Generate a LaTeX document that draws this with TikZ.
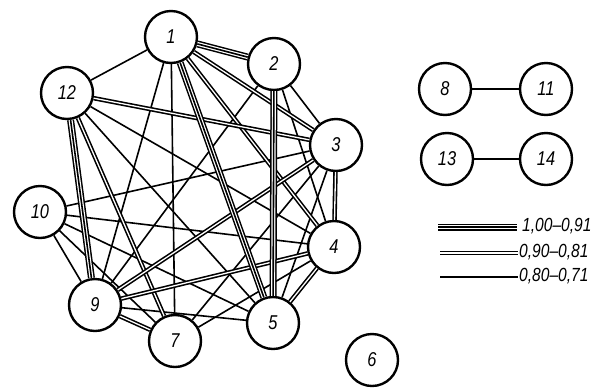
\documentclass[tikz,border=0pt]{standalone}
\usepackage{fontspec}
\setmainfont{Liberation Sans}
\newcommand{\narrow}[1]{\scalebox{0.82}[1]{#1}}
\tikzset{
  vertex/.style={circle, draw, line width=2.4pt, minimum size=52pt, inner sep=0pt,
    font=\itshape\fontsize{20}{20}\selectfont},
  single/.style={line width=1.6pt},
  twofold/.style={double, double distance=1.3pt, line width=1.6pt},
  threefold/.style={line width=7pt, postaction={draw=white, line width=4pt},
    postaction={draw, line width=1.6pt}},
  legendtext/.style={anchor=west, inner sep=0pt, font=\itshape\fontsize{19}{19}\selectfont}
}
\begin{document}
\begin{tikzpicture}[x=1pt, y=-1pt]
      \useasboundingbox (0,0) rectangle (599,389);
      \draw[vertex]
        (171,37) node[vertex] (1){\narrow{1}}
        (274,64) node[vertex] (2){\narrow{2}}
        (336,145) node[vertex] (3){\narrow{3}}
        (334,247) node[vertex] (4){\narrow{4}}
        (273,323) node[vertex] (5){\narrow{5}}
        (372,360) node[vertex] (6){\narrow{6}}
        (175,341) node[vertex] (7){\narrow{7}}
        (445,89) node[vertex] (8){\narrow{8}}
        (95,305) node[vertex] (9){\narrow{9}}
        (40,212) node[vertex] (10){\narrow{10}}
        (546,89) node[vertex] (11){\narrow{11}}
        (67,93) node[vertex] (12){\narrow{12}}
        (447,159) node[vertex] (13){\narrow{13}}
        (546,159) node[vertex] (14){\narrow{14}};
      \begin{scope}[-]
        \draw[single] (1) to (12);
        \draw[single] (1) to (7);
        \draw[single] (1) to (9);
        \draw[single] (2) to (3);
        \draw[single] (2) to (4);
        \draw[single] (2) to (9);
        \draw[single] (3) to (10);
        \draw[single] (3) to (5);
        \draw[single] (3) to (7);
        \draw[single] (4) to (10);
        \draw[single] (4) to (7);
        \draw[single] (4) to (12);
        \draw[single] (5) to (9);
        \draw[single] (5) to (12);
        \draw[single] (5) to (10);
        \draw[single] (10) to (7);
        \draw[single] (10) to (9);
        \draw[single] (8) to (11);
        \draw[single] (13) to (14);
        \draw[twofold] (1) to (3);
        \draw[twofold] (1) to (4);
        \draw[twofold] (12) to (3);
        \draw[twofold] (12) to (7);
        \draw[twofold] (3) to (4);
        \draw[twofold] (3) to (9);
        \draw[twofold] (4) to (9);
        \draw[twofold] (4) to (5);
        \draw[twofold] (9) to (7);
        \draw[threefold] (1) to (2);
        \draw[threefold] (1) to (5);
        \draw[threefold] (2) to (5);
        \draw[threefold] (12) to (9);
      \end{scope}
      % legend
      \coordinate (t0) at (438,227);
      \coordinate (t1) at (517,227);
      \coordinate (d0) at (440,253);
      \coordinate (d1) at (518,253);
      \coordinate (s0) at (440,277);
      \coordinate (s1) at (518,277);
      \draw[threefold] (t0) -- (t1);
      \draw[twofold] (d0) -- (d1);
      \draw[single] (s0) -- (s1);
      \node[legendtext] (tl) at (522,226) {\narrow{1,00--0,91}};
      \node[legendtext] (dl) at (519,252) {\narrow{0,90--0,81}};
      \node[legendtext] (sl) at (519,276) {\narrow{0,80--0,71}};
    \end{tikzpicture}
\end{document}
